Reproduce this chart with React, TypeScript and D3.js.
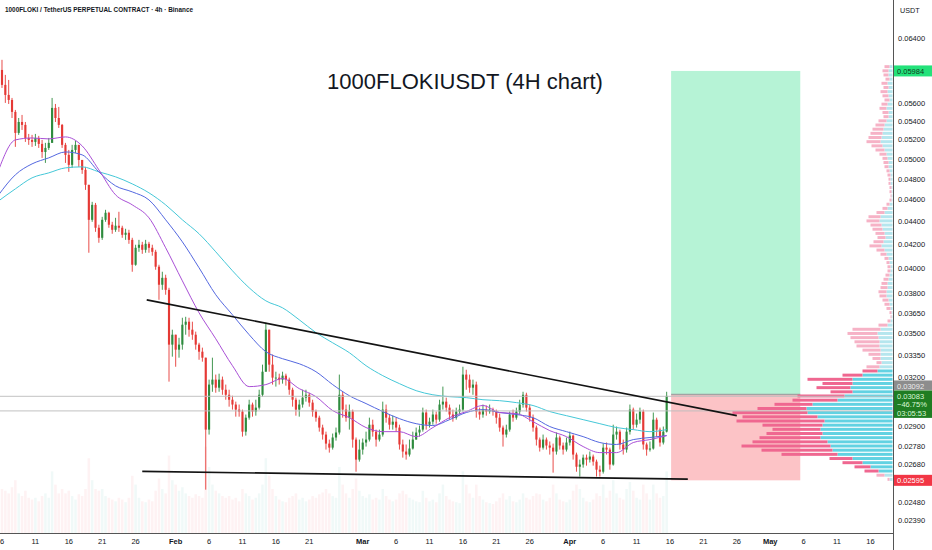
import React, { useEffect, useRef } from "react";
import * as d3 from "d3";

// ---------------- data ----------------
const candleStartUTC = "2025-01-05T12:00:00Z";
const candleHours = 12;
const firstOpen = 0.06096;

const closes = [
  0.05996, 0.05816, 0.05698, 0.0564, 0.05504, 0.05273, 0.05392, 0.0536, 0.05219, 0.05198,
  0.05177, 0.05219, 0.05156, 0.05072, 0.05114, 0.05167, 0.05549, 0.05436, 0.0536, 0.05146,
  0.05042, 0.0494, 0.05093, 0.05146, 0.0499, 0.0489, 0.04743, 0.04416, 0.04553, 0.04345,
  0.04257, 0.04416, 0.0448, 0.04372, 0.04327, 0.04363, 0.04345, 0.04283, 0.04301, 0.04239,
  0.04029, 0.04171, 0.04197, 0.04154, 0.04205, 0.04171, 0.04137, 0.04013, 0.03868, 0.03923,
  0.03828, 0.03423, 0.03493, 0.03388, 0.03423, 0.03565, 0.03587, 0.03529, 0.03493, 0.03423,
  0.03374, 0.03333, 0.02878, 0.03155, 0.03187, 0.03135, 0.03187, 0.03122, 0.0309, 0.03059,
  0.03029, 0.02998, 0.02986, 0.02866, 0.02949, 0.03029, 0.02986, 0.0301, 0.0309, 0.03239,
  0.03529, 0.03286, 0.032, 0.032, 0.03187, 0.03213, 0.03187, 0.03122, 0.03059, 0.02998,
  0.03029, 0.03072, 0.0309, 0.03041, 0.02986, 0.02949, 0.0289, 0.02849, 0.02797, 0.02774,
  0.02832, 0.02861, 0.0309, 0.02998, 0.02949, 0.02986, 0.0282, 0.02707, 0.02763, 0.02803,
  0.0282, 0.02907, 0.02866, 0.0282, 0.02849, 0.02998, 0.02949, 0.02907, 0.02925, 0.0289,
  0.02792, 0.02752, 0.02735, 0.02769, 0.0282, 0.02861, 0.02878, 0.0298, 0.02907, 0.02925,
  0.02968, 0.02937, 0.03029, 0.03047, 0.0301, 0.02968, 0.02949, 0.02986, 0.02998, 0.0322,
  0.03187, 0.03135, 0.03155, 0.02986, 0.02968, 0.02998, 0.02986, 0.02998, 0.02986, 0.02949,
  0.0289, 0.02849, 0.02878, 0.02968, 0.02949, 0.02986, 0.03029, 0.0309, 0.0301, 0.02949,
  0.0289, 0.0282, 0.02774, 0.0282, 0.02786, 0.02774, 0.02752, 0.02832, 0.02786, 0.02763,
  0.02803, 0.02843, 0.02735, 0.02668, 0.0268, 0.02718, 0.02707, 0.02724, 0.02696, 0.02652,
  0.02641, 0.02774, 0.02763, 0.0268, 0.02849, 0.02866, 0.02792, 0.02763, 0.02866, 0.02998,
  0.02907, 0.02937, 0.02986, 0.02792, 0.02763, 0.02769, 0.02937, 0.02878, 0.02803, 0.02866,
  0.03083,
];

const highs = [
  0.06146, 0.06121, 0.05936, 0.05875, 0.05663, 0.05526, 0.05436, 0.0547, 0.05392, 0.05262,
  0.05252, 0.05262, 0.05241, 0.05198, 0.05167, 0.05219, 0.05663, 0.05594, 0.0556, 0.0537,
  0.05167, 0.05093, 0.05146, 0.05188, 0.05146, 0.0499, 0.0492, 0.04743, 0.04581, 0.04571,
  0.04372, 0.04443, 0.04507, 0.04489, 0.04398, 0.04434, 0.04489, 0.04363, 0.04336, 0.04327,
  0.04257, 0.04197, 0.04239, 0.04222, 0.04239, 0.04222, 0.04197, 0.04154, 0.04029, 0.03972,
  0.03948, 0.03844, 0.03529, 0.03486, 0.03471, 0.03616, 0.03623, 0.03616, 0.03587, 0.03515,
  0.03436, 0.03402, 0.03333, 0.03187, 0.03333, 0.0322, 0.03226, 0.03207, 0.03155, 0.03122,
  0.03084, 0.03047, 0.03029, 0.02998, 0.02968, 0.03059, 0.03041, 0.03059, 0.03122, 0.03286,
  0.0358, 0.03529, 0.03354, 0.03239, 0.03226, 0.03239, 0.03226, 0.032, 0.03135, 0.03072,
  0.03059, 0.03122, 0.03122, 0.03103, 0.03059, 0.02998, 0.02961, 0.02907, 0.02866, 0.0282,
  0.02855, 0.0289, 0.0322, 0.03109, 0.03029, 0.03029, 0.02998, 0.02832, 0.0282, 0.02826,
  0.02866, 0.02949, 0.02937, 0.02878, 0.02878, 0.03047, 0.03029, 0.02968, 0.02961, 0.02949,
  0.02907, 0.0282, 0.02792, 0.0282, 0.02866, 0.0289, 0.02902, 0.0301, 0.02998, 0.02949,
  0.02998, 0.02986, 0.03059, 0.03142, 0.03072, 0.03029, 0.02998, 0.0301, 0.03029, 0.03272,
  0.03252, 0.0322, 0.03187, 0.03174, 0.0301, 0.03029, 0.03023, 0.03029, 0.0301, 0.02998,
  0.02974, 0.02902, 0.02907, 0.02986, 0.02998, 0.0301, 0.03059, 0.03109, 0.03103, 0.03029,
  0.02968, 0.02902, 0.02832, 0.02849, 0.02832, 0.02809, 0.02797, 0.02861, 0.02843, 0.02803,
  0.02832, 0.02866, 0.02849, 0.02746, 0.02707, 0.02735, 0.02735, 0.02752, 0.02735, 0.02707,
  0.02674, 0.02797, 0.02803, 0.02774, 0.02907, 0.02896, 0.02878, 0.0282, 0.0289, 0.03029,
  0.0301, 0.02974, 0.0301, 0.02998, 0.02803, 0.02809, 0.0298, 0.02949, 0.0289, 0.02896,
  0.03109,
];

const lows = [
  0.05936, 0.0578, 0.05606, 0.05594, 0.05436, 0.05125, 0.05252, 0.05305, 0.05177, 0.05146,
  0.05125, 0.05135, 0.05114, 0.05011, 0.0496, 0.05093, 0.05198, 0.05392, 0.05327, 0.05114,
  0.0496, 0.0487, 0.0491, 0.05062, 0.0492, 0.0485, 0.04694, 0.04129, 0.04398, 0.04309,
  0.04214, 0.04239, 0.04398, 0.04345, 0.04292, 0.04309, 0.04309, 0.04257, 0.04239, 0.04205,
  0.03972, 0.04021, 0.04137, 0.0412, 0.04129, 0.04129, 0.04104, 0.03988, 0.03751, 0.03828,
  0.0379, 0.03174, 0.0334, 0.03272, 0.03333, 0.03388, 0.03493, 0.03479, 0.03457, 0.03388,
  0.03319, 0.03306, 0.02546, 0.02849, 0.03109, 0.03103, 0.03109, 0.0309, 0.03059, 0.03016,
  0.02998, 0.02955, 0.02955, 0.02837, 0.02843, 0.02937, 0.02955, 0.02961, 0.02998, 0.03078,
  0.03252, 0.03239, 0.03155, 0.03142, 0.03155, 0.03161, 0.03148, 0.0309, 0.03016, 0.02961,
  0.02955, 0.0301, 0.03047, 0.03016, 0.02955, 0.02925, 0.02866, 0.0282, 0.02763, 0.02746,
  0.02763, 0.02814, 0.02849, 0.02949, 0.02925, 0.02878, 0.02774, 0.02641, 0.02696, 0.02735,
  0.0278, 0.02809, 0.02837, 0.0278, 0.02809, 0.02837, 0.02919, 0.02878, 0.02878, 0.02866,
  0.02763, 0.02718, 0.02707, 0.02724, 0.02763, 0.0282, 0.02837, 0.02866, 0.02878, 0.0289,
  0.02907, 0.02913, 0.02925, 0.02998, 0.02986, 0.02937, 0.02925, 0.02937, 0.02968, 0.02986,
  0.03122, 0.03103, 0.0309, 0.02949, 0.02937, 0.02949, 0.02961, 0.02973, 0.02961, 0.02913,
  0.02866, 0.0278, 0.02832, 0.02866, 0.02925, 0.02937, 0.02968, 0.0301, 0.02986, 0.02925,
  0.02866, 0.02786, 0.02752, 0.02763, 0.02763, 0.02735, 0.02636, 0.02735, 0.02763, 0.02735,
  0.02752, 0.02786, 0.02707, 0.02641, 0.02615, 0.02663, 0.02674, 0.02691, 0.02674, 0.02615,
  0.02615, 0.02631, 0.02735, 0.02652, 0.02674, 0.0282, 0.02763, 0.02735, 0.02746, 0.02849,
  0.02878, 0.0289, 0.02913, 0.02763, 0.02729, 0.02752, 0.02763, 0.02837, 0.0278, 0.02792,
  0.02861,
];

const volumes = [
  55, 50, 48, 45, 52, 60, 45, 42, 48, 40,
  38, 40, 36, 42, 45, 40, 70, 55, 45, 50,
  45, 48, 42, 38, 44, 42, 50, 85, 60, 50,
  48, 50, 42, 40, 38, 36, 40, 38, 35, 40,
  65, 55, 40, 36, 35, 38, 36, 48, 62, 50,
  45, 88, 60, 55, 48, 52, 45, 42, 40, 44,
  42, 40, 98, 75, 55, 48, 45, 42, 40, 42,
  38, 40, 36, 50, 45, 42, 38, 40, 45, 55,
  85, 65, 50, 42, 38, 36, 35, 40, 42, 45,
  38, 40, 36, 38, 42, 40, 44, 46, 50, 45,
  42, 40, 75, 55, 45, 40, 50, 62, 48, 42,
  40, 44, 38, 40, 38, 50, 42, 38, 36, 38,
  45, 48, 44, 40, 38, 36, 35, 48, 40, 36,
  38, 35, 45, 55, 42, 38, 36, 35, 34, 70,
  55, 45, 40, 55, 42, 38, 35, 34, 33, 36,
  40, 45, 38, 42, 36, 35, 38, 45, 40, 38,
  42, 45, 44, 38, 36, 40, 55, 45, 38, 36,
  35, 38, 48, 55, 50, 40, 36, 35, 38, 45,
  42, 55, 40, 48, 60, 45, 40, 38, 50, 58,
  48, 40, 38, 55, 45, 38, 55, 45, 40, 42,
  70,
];

// moving averages, one value every maEvery candles
const maEvery = 5;
const maPurple = [
  0.0489, 0.05198, 0.05219, 0.05209, 0.0523, 0.05135, 0.0489, 0.04647, 0.04553, 0.04434,
  0.04171, 0.03899, 0.03653, 0.03464, 0.03279, 0.03142, 0.03155, 0.03194, 0.03129, 0.03078,
  0.02992, 0.02949, 0.0289, 0.02866, 0.02866, 0.02837, 0.0289, 0.02949, 0.02986, 0.03023,
  0.0298, 0.02974, 0.02925, 0.02872, 0.02837, 0.0278, 0.02746, 0.02746, 0.02803, 0.0282,
  0.02843,
];
const maBlue = [
  0.04647, 0.04841, 0.0495, 0.05011, 0.05072, 0.05042, 0.0487, 0.04733, 0.04675, 0.04599,
  0.04416, 0.04222, 0.04004, 0.0379, 0.03638, 0.03493, 0.03374, 0.03326, 0.03292, 0.03239,
  0.03155, 0.03084, 0.03035, 0.02986, 0.02943, 0.02913, 0.02902, 0.02937, 0.0298, 0.02998,
  0.0298, 0.02968, 0.02949, 0.02896, 0.02866, 0.02837, 0.02803, 0.02792, 0.0282, 0.02832,
  0.02843,
];
const maCyan = [
  0.0459, 0.04704, 0.04811, 0.0486, 0.0491, 0.0492, 0.0487, 0.04821, 0.04752, 0.04666,
  0.04553, 0.04416, 0.04292, 0.04137, 0.0398, 0.03844, 0.03743, 0.0369, 0.03601, 0.03508,
  0.03436, 0.03367, 0.03279, 0.03213, 0.03161, 0.03116, 0.0309, 0.03078, 0.03072, 0.03059,
  0.03053, 0.03041, 0.03023, 0.02986, 0.02961, 0.02937, 0.02913, 0.0289, 0.02878, 0.02866,
  0.02878,
];

// visible range volume profile (rows from top price to bottom price)
const vpHigh = 0.0606;
const vpLow = 0.02588;
const vpTotal = [
  8, 10, 9, 7, 11, 9, 12, 10, 8, 11,
  13, 10, 9, 14, 17, 20, 22, 24, 26, 21,
  17, 13, 10, 9, 8, 6, 5, 4, 4, 3,
  3, 2, 3, 6, 10, 16, 24, 26, 22, 20,
  17, 15, 19, 23, 16, 12, 8, 6, 5, 5,
  7, 9, 11, 12, 14, 13, 10, 8, 6, 3,
  2, 5, 14, 40, 45, 42, 38, 36, 30, 24,
  20, 16, 26, 30, 50, 85, 70, 76, 62, 95,
  100, 118, 135, 160, 150, 156, 130, 120, 126, 133,
  140, 151, 131, 111, 63, 50, 38, 28, 16, 5,
];
const vpUp = [
  3, 4, 4, 3, 5, 4, 5, 4, 3, 5,
  6, 4, 4, 6, 8, 9, 10, 11, 12, 10,
  8, 6, 5, 4, 4, 3, 2, 2, 2, 1,
  1, 1, 1, 3, 5, 8, 12, 13, 11, 10,
  8, 7, 9, 11, 8, 6, 4, 3, 2, 2,
  3, 4, 5, 5, 6, 6, 4, 3, 2, 1,
  1, 2, 5, 12, 15, 14, 13, 13, 12, 12,
  12, 11, 13, 15, 30, 40, 40, 42, 40, 48,
  55, 80, 86, 85, 75, 68, 70, 72, 70, 72,
  65, 62, 60, 55, 40, 30, 22, 14, 8, 3,
];

const priceTicks = [
  0.064, 0.056, 0.054, 0.052, 0.05, 0.048, 0.046, 0.044, 0.042, 0.04,
  0.038, 0.0365, 0.035, 0.0335, 0.032, 0.029, 0.0278, 0.0268, 0.0248, 0.0239,
];

const timeTickDates = [
  "2025-01-06", "2025-01-11", "2025-01-16", "2025-01-21", "2025-01-26", "2025-02-01",
  "2025-02-06", "2025-02-11", "2025-02-16", "2025-02-21", "2025-03-01", "2025-03-06",
  "2025-03-11", "2025-03-16", "2025-03-21", "2025-03-26", "2025-04-01", "2025-04-06",
  "2025-04-11", "2025-04-16", "2025-04-21", "2025-04-26", "2025-05-01", "2025-05-06",
  "2025-05-11", "2025-05-16",
];
const timeTickLabels = [
  "6", "11", "16", "21", "26", "Feb", "6", "11", "16", "21", "Mar", "6", "11", "16", "21",
  "26", "Apr", "6", "11", "16", "21", "26", "May", "6", "11", "16",
];

const upperLineDates = ["2025-01-27T16:00:00Z", "2025-04-26T00:00:00Z"];
const upperLinePrices = [0.03751, 0.02961];
const lowerLineDates = ["2025-01-27T00:00:00Z", "2025-04-18T16:00:00Z"];
const lowerLinePrices = [0.02643, 0.02601];

const positionDates = ["2025-04-16T04:00:00Z", "2025-05-05T12:00:00Z"];
const targetPrice = 0.05984;
const entryPrice = 0.03092;
const stopPrice = 0.02595;

const levelLines = [0.0308, 0.0299];

const lastPrice = 0.03083;
const lastChange = "−46.75%";
const countdown = "03:05:53";

const headerText = "1000FLOKI / TetherUS PERPETUAL CONTRACT · 4h · Binance";
const titleText = "1000FLOKIUSDT (4H chart)";

// ---------------- chart ----------------
export default function App() {
  const ref = useRef<SVGSVGElement | null>(null);

  useEffect(() => {
    const root = d3.select(ref.current);
    root.selectAll("*").remove();
    const font = "'Liberation Sans', Arial, sans-serif";
    const plotR = 893;
    const plotB = 533;

    const x = d3
      .scaleUtc()
      .domain([new Date("2025-01-01T00:00:00Z"), new Date("2025-05-21T00:00:00Z")])
      .range([-31.4, 903.8]);
    const y = d3.scaleLog().domain([0.064, 0.0239]).range([38, 520.65]);

    root.append("rect").attr("width", 932).attr("height", 550).attr("fill", "#ffffff");
    root
      .append("defs")
      .append("clipPath")
      .attr("id", "plotClip")
      .append("rect")
      .attr("x", 0)
      .attr("y", 0)
      .attr("width", plotR)
      .attr("height", plotB);
    const plot = root.append("g").attr("clip-path", "url(#plotClip)");

    const t0 = new Date(candleStartUTC).getTime();
    const step = candleHours * 3600e3;
    const candles = closes.map((c, i) => {
      const open = i === 0 ? firstOpen : closes[i - 1];
      return {
        t: new Date(t0 + i * step),
        open,
        close: c,
        high: Math.max(highs[i], open, c),
        low: Math.min(lows[i], open, c),
        vol: volumes[i],
      };
    });
    const barW = x(new Date(t0 + step)) - x(new Date(t0));
    const bodyW = barW * 0.64;
    const upC = "#2e8b3e";
    const dnC = "#e53935";

    // volume histogram
    const vh = d3.scaleLinear().domain([0, 100]).range([0, 88]);
    plot
      .append("g")
      .selectAll("rect")
      .data(candles)
      .join("rect")
      .attr("x", (d) => x(d.t) - barW / 2 + 0.4)
      .attr("width", barW - 0.8)
      .attr("y", (d) => plotB - vh(d.vol))
      .attr("height", (d) => vh(d.vol))
      .attr("fill", (d) => (d.close >= d.open ? "rgba(8,153,129,0.06)" : "rgba(242,54,69,0.065)"));

    // position tool
    const px0 = x(new Date(positionDates[0]));
    const px1 = x(new Date(positionDates[1]));
    plot
      .append("rect")
      .attr("x", px0)
      .attr("width", px1 - px0)
      .attr("y", y(targetPrice))
      .attr("height", y(entryPrice) - y(targetPrice))
      .attr("fill", "#b6f3d6");
    plot
      .append("rect")
      .attr("x", px0)
      .attr("width", px1 - px0)
      .attr("y", y(entryPrice))
      .attr("height", y(stopPrice) - y(entryPrice))
      .attr("fill", "#fcc3c6");
    plot
      .append("line")
      .attr("x1", px0)
      .attr("x2", px1)
      .attr("y1", y(entryPrice))
      .attr("y2", y(entryPrice))
      .attr("stroke", "#a3a3a3")
      .attr("stroke-width", 1.5);

    // volume profile
    const n = vpTotal.length;
    const vpTop = y(vpHigh);
    const rowH = (y(vpLow) - vpTop) / n;
    const poc = d3.maxIndex(vpTotal);
    const totalVol = d3.sum(vpTotal);
    let lo = poc;
    let hi = poc;
    let acc = vpTotal[poc];
    while (acc < 0.7 * totalVol && (lo > 0 || hi < n - 1)) {
      const a = lo > 0 ? vpTotal[lo - 1] : -1;
      const b = hi < n - 1 ? vpTotal[hi + 1] : -1;
      if (a >= b) {
        lo -= 1;
        acc += a;
      } else {
        hi += 1;
        acc += b;
      }
    }
    const vpx = d3.scaleLinear().domain([0, 160]).range([0, 160]);
    const vpRight = plotR - 0.5;
    const vpG = plot.append("g");
    vpTotal.forEach((tot, k) => {
      const inVA = k >= lo && k <= hi;
      const up = vpUp[k];
      const yy = vpTop + k * rowH + 0.4;
      const hh = Math.max(rowH - 1.2, 1);
      vpG
        .append("rect")
        .attr("x", vpRight - vpx(up))
        .attr("width", vpx(up))
        .attr("y", yy)
        .attr("height", hh)
        .attr("fill", inVA ? "#62d2e2" : "#b5e6ee");
      vpG
        .append("rect")
        .attr("x", vpRight - vpx(tot))
        .attr("width", vpx(tot - up))
        .attr("y", yy)
        .attr("height", hh)
        .attr("fill", inVA ? "#ef6790" : "#f6b2c6");
    });

    // candles
    const cg = plot.append("g");
    cg.selectAll("line")
      .data(candles)
      .join("line")
      .attr("x1", (d) => x(d.t))
      .attr("x2", (d) => x(d.t))
      .attr("y1", (d) => y(d.high))
      .attr("y2", (d) => y(d.low))
      .attr("stroke", (d) => (d.close >= d.open ? upC : dnC))
      .attr("stroke-width", 0.9);
    cg.selectAll("rect")
      .data(candles)
      .join("rect")
      .attr("x", (d) => x(d.t) - bodyW / 2)
      .attr("width", bodyW)
      .attr("y", (d) => y(Math.max(d.open, d.close)))
      .attr("height", (d) => Math.max(Math.abs(y(d.open) - y(d.close)), 0.8))
      .attr("fill", (d) => (d.close >= d.open ? upC : dnC));

    // moving averages
    const maLine = d3
      .line<{ t: Date; v: number }>()
      .x((d) => x(d.t))
      .y((d) => y(d.v))
      .curve(d3.curveMonotoneX);
    const maSeries: [number[], string][] = [
      [maCyan, "#45c8d8"],
      [maBlue, "#5468e0"],
      [maPurple, "#a94fd6"],
    ];
    maSeries.forEach(([vals, col]) => {
      const pts = vals.map((v, k) => ({ t: new Date(t0 + k * maEvery * step), v }));
      plot
        .append("path")
        .attr("d", maLine(pts) || "")
        .attr("fill", "none")
        .attr("stroke", col)
        .attr("stroke-width", 1);
    });

    // horizontal level lines
    levelLines.forEach((p) => {
      plot
        .append("line")
        .attr("x1", 0)
        .attr("x2", plotR)
        .attr("y1", y(p))
        .attr("y2", y(p))
        .attr("stroke", "rgba(190,190,190,0.75)")
        .attr("stroke-width", 1.2);
    });

    // trendlines
    const tl = (dates: string[], prices: number[]) => {
      plot
        .append("line")
        .attr("x1", x(new Date(dates[0])))
        .attr("y1", y(prices[0]))
        .attr("x2", x(new Date(dates[1])))
        .attr("y2", y(prices[1]))
        .attr("stroke", "#131313")
        .attr("stroke-width", 1.7);
    };
    tl(upperLineDates, upperLinePrices);
    tl(lowerLineDates, lowerLinePrices);

    // title
    root
      .append("text")
      .attr("x", 465)
      .attr("y", 89)
      .attr("text-anchor", "middle")
      .attr("font-family", font)
      .attr("font-size", 22)
      .attr("fill", "#131722")
      .text(titleText);

    // header
    root
      .append("text")
      .attr("x", 5)
      .attr("y", 12)
      .attr("font-family", font)
      .attr("font-size", 7)
      .attr("font-weight", 700)
      .attr("fill", "#131722")
      .attr("textLength", 188)
      .attr("lengthAdjust", "spacingAndGlyphs")
      .text(headerText);

    // axes lines
    root
      .append("line")
      .attr("x1", 0)
      .attr("x2", plotR)
      .attr("y1", plotB + 0.5)
      .attr("y2", plotB + 0.5)
      .attr("stroke", "#555")
      .attr("stroke-width", 1);
    root
      .append("line")
      .attr("x1", plotR + 0.5)
      .attr("x2", plotR + 0.5)
      .attr("y1", 0)
      .attr("y2", 550)
      .attr("stroke", "#555")
      .attr("stroke-width", 1);

    // time labels
    timeTickDates.forEach((ds, i) => {
      const lbl = timeTickLabels[i];
      const bold = isNaN(Number(lbl));
      root
        .append("text")
        .attr("x", x(new Date(ds + "T00:00:00Z")))
        .attr("y", 544)
        .attr("text-anchor", "middle")
        .attr("font-family", font)
        .attr("font-size", 7.5)
        .attr("font-weight", bold ? 700 : 400)
        .attr("fill", "#131722")
        .text(lbl);
    });

    // price labels
    root
      .append("text")
      .attr("x", 900)
      .attr("y", 13)
      .attr("font-family", font)
      .attr("font-size", 7.2)
      .attr("fill", "#131722")
      .text("USDT");
    priceTicks.forEach((p) => {
      root
        .append("text")
        .attr("x", 898)
        .attr("y", y(p))
        .attr("dy", "0.35em")
        .attr("font-family", font)
        .attr("font-size", 7.5)
        .attr("fill", "#131722")
        .text(p.toFixed(5));
    });

    const tag = (cy: number, h: number, fill: string, lines: string[], color: string) => {
      root
        .append("rect")
        .attr("x", plotR + 1)
        .attr("y", cy - 5.5)
        .attr("width", 932 - plotR - 1)
        .attr("height", h)
        .attr("fill", fill);
      lines.forEach((s, k) => {
        root
          .append("text")
          .attr("x", 897)
          .attr("y", cy + k * 8.7)
          .attr("dy", "0.35em")
          .attr("font-family", font)
          .attr("font-size", 7.5)
          .attr("fill", color)
          .text(s);
      });
    };
    tag(y(targetPrice), 11, "#23e27a", [targetPrice.toFixed(5)], "#0f3a1f");
    tag(y(entryPrice) - 8.5, 9.5, "#8d8d8d", [entryPrice.toFixed(5)], "#ececec");
    tag(y(lastPrice), 27.5, "#1f7d22", [lastPrice.toFixed(5), lastChange, countdown], "#d9f7d6");
    tag(y(stopPrice), 11, "#f23645", [stopPrice.toFixed(5)], "#ffffff");
  }, []);

  return (
    <svg
      ref={ref}
      width={932}
      height={550}
      style={{ position: "absolute", left: 0, top: 0, display: "block" }}
    />
  );
}
